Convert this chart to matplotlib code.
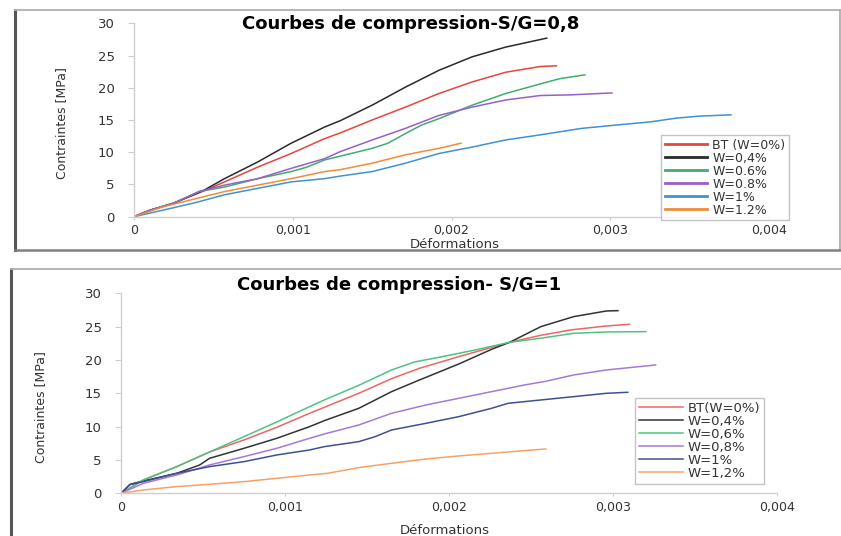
import matplotlib
matplotlib.use("Agg")
import matplotlib.pyplot as plt
from matplotlib.lines import Line2D

# Valeurs (deformation, contrainte en MPa)
# --- S/G = 0,8 ---
bt08_x = [0, 0.0001, 0.00025, 0.00044, 0.00057, 0.00078, 0.00099, 0.0012, 0.0013, 0.0015, 0.00171, 0.00192, 0.00213, 0.00234, 0.00256, 0.00266]
bt08_y = [0, 1.0, 2.1, 4.0, 5.4, 7.7, 9.8, 12.1, 13.0, 15.0, 17.0, 19.1, 20.9, 22.4, 23.3, 23.4]
w04_08_x = [0, 0.0001, 0.00025, 0.00044, 0.00057, 0.00078, 0.00099, 0.0012, 0.0013, 0.0015, 0.00171, 0.00192, 0.00213, 0.00234, 0.0026]
w04_08_y = [0, 1.0, 2.1, 4.1, 5.9, 8.5, 11.4, 13.9, 14.9, 17.3, 20.1, 22.7, 24.8, 26.3, 27.7]
w06_08_x = [0, 0.0001, 0.00025, 0.00041, 0.00057, 0.00078, 0.00099, 0.00109, 0.0012, 0.0013, 0.0015, 0.0016, 0.00171, 0.00181, 0.00192, 0.00213, 0.00234, 0.00256, 0.00268, 0.00284]
w06_08_y = [0, 1.0, 2.1, 3.9, 4.6, 5.9, 7.0, 7.7, 8.8, 9.4, 10.6, 11.4, 12.9, 14.2, 15.2, 17.3, 19.1, 20.6, 21.4, 22.0]
w08_08_x = [0, 0.0001, 0.00025, 0.00041, 0.00057, 0.00078, 0.00099, 0.0012, 0.0013, 0.0015, 0.00171, 0.00192, 0.00213, 0.00234, 0.00256, 0.00275, 0.00301]
w08_08_y = [0, 1.0, 2.1, 3.9, 4.9, 5.9, 7.5, 9.0, 10.1, 11.9, 13.7, 15.7, 17.0, 18.1, 18.8, 18.9, 19.2]
w1_08_x = [0, 0.00018, 0.00039, 0.00057, 0.00078, 0.00099, 0.0012, 0.0013, 0.0015, 0.00171, 0.00192, 0.00213, 0.00234, 0.00256, 0.00282, 0.00303, 0.00325, 0.00342, 0.00356, 0.00376]
w1_08_y = [0, 1.0, 2.2, 3.4, 4.4, 5.4, 5.9, 6.3, 7.0, 8.3, 9.8, 10.8, 11.9, 12.7, 13.7, 14.2, 14.7, 15.3, 15.6, 15.8]
w12_08_x = [0, 0.00018, 0.00039, 0.00057, 0.00078, 0.00099, 0.0012, 0.0013, 0.0015, 0.00171, 0.00192, 0.00206]
w12_08_y = [0, 1.5, 2.8, 3.9, 4.9, 5.9, 7.0, 7.3, 8.3, 9.6, 10.6, 11.4]

# --- S/G = 1 ---
bt1_x = [0, 0.000136, 0.00034, 0.00054, 0.00075, 0.00095, 0.00115, 0.00124, 0.00145, 0.00165, 0.00182, 0.00206, 0.00237, 0.00256, 0.00274, 0.00296, 0.0031]
bt1_y = [0, 2.0, 4.0, 6.2, 8.0, 9.9, 12.0, 12.9, 15.0, 17.2, 18.75, 20.5, 22.65, 23.7, 24.5, 25.1, 25.35]
w04_1_x = [0, 0.000055, 0.000136, 0.00034, 0.00048, 0.00054, 0.00075, 0.00095, 0.00115, 0.00124, 0.00145, 0.00165, 0.00182, 0.00206, 0.00226, 0.00237, 0.00256, 0.00276, 0.00296, 0.00303]
w04_1_y = [0, 1.35, 1.85, 3.0, 4.25, 5.25, 6.75, 8.25, 10.0, 10.9, 12.75, 15.25, 17.0, 19.4, 21.6, 22.65, 25.0, 26.5, 27.35, 27.4]
w06_1_x = [0, 0.000136, 0.00034, 0.00054, 0.00075, 0.00095, 0.00115, 0.00124, 0.00145, 0.00165, 0.00179, 0.00196, 0.00216, 0.00237, 0.00257, 0.00276, 0.00296, 0.0032]
w06_1_y = [0, 2.0, 4.0, 6.2, 8.5, 10.7, 13.0, 14.0, 16.2, 18.5, 19.7, 20.5, 21.5, 22.65, 23.3, 24.0, 24.2, 24.25]
w08_1_x = [0, 0.000136, 0.00034, 0.00054, 0.00075, 0.00095, 0.00115, 0.00124, 0.00145, 0.00165, 0.00186, 0.00206, 0.00226, 0.00246, 0.00259, 0.00276, 0.00296, 0.00326]
w08_1_y = [0, 1.5, 2.75, 4.25, 5.5, 6.75, 8.25, 8.9, 10.25, 12.0, 13.25, 14.25, 15.25, 16.25, 16.8, 17.75, 18.5, 19.25]
w1_1_x = [0, 0.000055, 0.000136, 0.00034, 0.00054, 0.00075, 0.00095, 0.00115, 0.00124, 0.00145, 0.00155, 0.00165, 0.00186, 0.00206, 0.00226, 0.00236, 0.00256, 0.00276, 0.00296, 0.00309]
w1_1_y = [0, 1.3, 1.75, 3.0, 4.0, 4.75, 5.75, 6.5, 7.0, 7.75, 8.5, 9.5, 10.5, 11.5, 12.75, 13.5, 14.0, 14.5, 15.0, 15.15]
w12_1_x = [0, 0.000136, 0.00034, 0.00054, 0.00075, 0.00095, 0.00115, 0.00126, 0.00145, 0.00165, 0.00186, 0.00206, 0.00226, 0.00246, 0.00259]
w12_1_y = [0, 0.5, 1.0, 1.35, 1.75, 2.25, 2.75, 3.0, 3.85, 4.5, 5.15, 5.6, 6.0, 6.4, 6.65]

labels_08 = ["BT (W=0%)", "W=0,4%", "W=0.6%", "W=0.8%", "W=1%", "W=1.2%"]
labels_1 = ["BT(W=0%)", "W=0,4%", "W=0,6%", "W=0,8%", "W=1%", "W=1,2%"]
colors_08 = ["#e8453c", "#2a2a2a", "#3fae6c", "#9a5ec9", "#3d92d9", "#f08c3a"]
colors_1 = ["#f26363", "#333333", "#4cc484", "#a47ad6", "#3d5190", "#f5a266"]

x_ticks = [0, 0.001, 0.002, 0.003, 0.004]
x_ticklabels = ["0", "0,001", "0,002", "0,003", "0,004"]
y_ticks = [0, 5, 10, 15, 20, 25, 30]

series_08 = [(bt08_x, bt08_y), (w04_08_x, w04_08_y), (w06_08_x, w06_08_y),
             (w08_08_x, w08_08_y), (w1_08_x, w1_08_y), (w12_08_x, w12_08_y)]
series_1 = [(bt1_x, bt1_y), (w04_1_x, w04_1_y), (w06_1_x, w06_1_y),
            (w08_1_x, w08_1_y), (w1_1_x, w1_1_y), (w12_1_x, w12_1_y)]

W, H = 841, 536
fig = plt.figure(figsize=(W / 100, H / 100), dpi=100)
fig.patch.set_facecolor("white")


def px_axes(l, t, r, b):
    return [l / W, 1 - b / H, (r - l) / W, (b - t) / H]


def style_axes(ax, ylab_x, ylab_y, xlab_x, xlab_y):
    ax.set_xlim(0, 0.004)
    ax.set_ylim(0, 30)
    ax.set_xticks(x_ticks)
    ax.set_xticklabels(x_ticklabels)
    ax.set_yticks(y_ticks)
    for s in ["top", "right"]:
        ax.spines[s].set_visible(False)
    for s in ["left", "bottom"]:
        ax.spines[s].set_color("#cfcfcf")
        ax.spines[s].set_linewidth(1.0)
    ax.tick_params(axis="y", length=4, width=0.8, color="#cfcfcf", pad=10,
                   labelsize=9.5, labelcolor="#333333")
    ax.tick_params(axis="x", length=2.5, width=0.8, color="#cfcfcf", pad=3,
                   labelsize=9, labelcolor="#333333")
    ax.set_ylabel("Contraintes [MPa]", fontsize=9, color="#333333",
                  family=["Liberation Sans Narrow", "DejaVu Sans"])
    ax.yaxis.set_label_coords(ylab_x, ylab_y)
    ax.set_xlabel("Déformations", fontsize=9.5, color="#333333")
    ax.xaxis.set_label_coords(xlab_x, xlab_y)


# Graphique du haut : S/G = 0,8
ax1 = fig.add_axes(px_axes(134, 23.3, 769, 216.7))
for (xs, ys), lab, c in zip(series_08, labels_08, colors_08):
    ax1.plot(xs, ys, color=c, lw=1.1, label=lab)
style_axes(ax1, -0.104, 0.484, 0.5055, -0.108)
leg1 = ax1.legend(loc="upper left", bbox_to_anchor=(0.830, 0.4225), fontsize=9,
                  handlelength=3.4, handletextpad=0.4, labelspacing=0.0,
                  borderpad=0.3, borderaxespad=0, frameon=True, fancybox=False)
leg1.get_frame().set_edgecolor("#b5b5b5")
leg1.get_frame().set_linewidth(1.0)
for t in leg1.get_texts():
    t.set_color("#333333")
for h in leg1.get_lines():
    h.set_linewidth(2.0)
fig.text(411 / W, 1 - 24 / H, "Courbes de compression-S/G=0,8", ha="center",
         va="center", fontsize=13, fontweight="bold")

# Graphique du bas : S/G = 1
ax2 = fig.add_axes(px_axes(121, 293.3, 777, 493.3))
for (xs, ys), lab, c in zip(series_1, labels_1, colors_1):
    ax2.plot(xs, ys, color=c, lw=1.1, label=lab)
style_axes(ax2, -0.113, 0.43, 0.494, -0.152)
leg2 = ax2.legend(loc="upper left", bbox_to_anchor=((635 - 121) / 656, (493.3 - 398) / 200),
                  fontsize=9.5, handlelength=3.3, handletextpad=0.4, labelspacing=0.0,
                  borderpad=0.3, borderaxespad=0, frameon=True, fancybox=False)
leg2.get_frame().set_edgecolor("#b5b5b5")
leg2.get_frame().set_linewidth(1.0)
for t in leg2.get_texts():
    t.set_color("#333333")
fig.text(399 / W, 1 - 285 / H, "Courbes de compression- S/G=1", ha="center",
         va="center", fontsize=13, fontweight="bold")

# Cadres autour des deux graphiques
fig.add_artist(Line2D([15 / W, 15 / W], [1 - 10 / H, 1 - 250 / H], color="#555555", lw=2.2))
fig.add_artist(Line2D([15 / W, 840 / W], [1 - 10 / H, 1 - 10 / H], color="#b0b0b0", lw=1.3))
fig.add_artist(Line2D([840 / W, 840 / W], [1 - 10 / H, 1 - 250 / H], color="#b0b0b0", lw=1.3))
fig.add_artist(Line2D([15 / W, 840 / W], [1 - 250 / H, 1 - 250 / H], color="#808080", lw=1.8))
fig.add_artist(Line2D([11 / W, 11 / W], [1 - 269 / H, 0], color="#555555", lw=2.2))
fig.add_artist(Line2D([11 / W, 1], [1 - 269 / H, 1 - 269 / H], color="#b0b0b0", lw=1.3))

fig.savefig("out.png", dpi=100)
